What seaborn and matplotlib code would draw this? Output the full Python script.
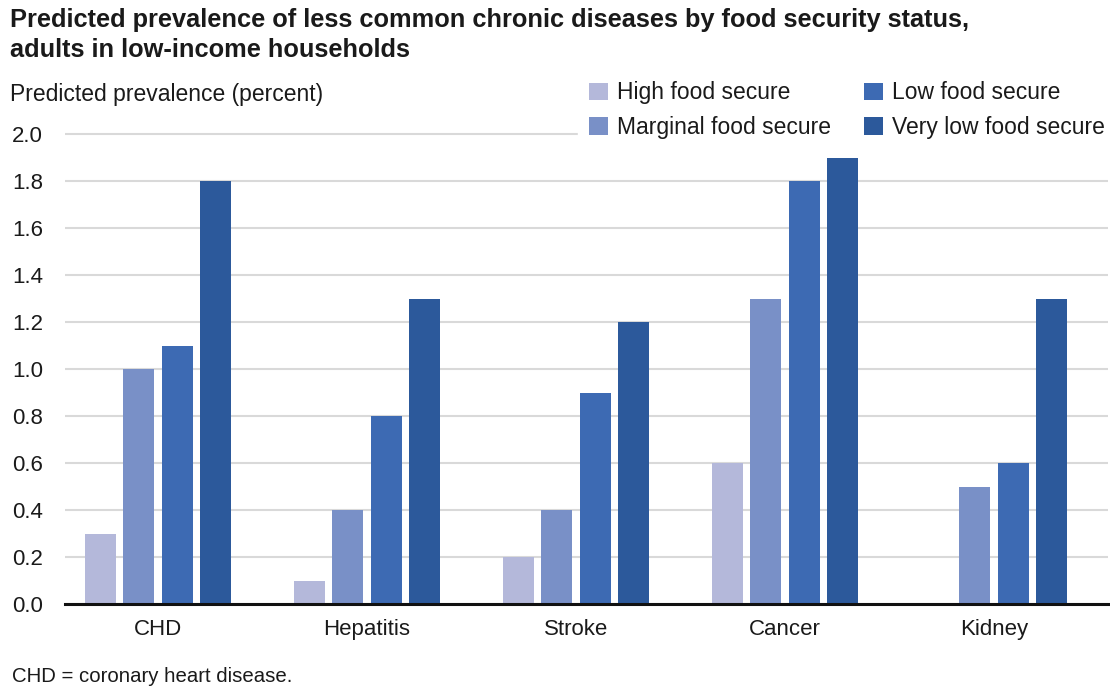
import numpy as np
import pandas as pd
import matplotlib
matplotlib.use("Agg")
import matplotlib.pyplot as plt
import seaborn as sns

# Predicted prevalence (percent) by disease and food security status
diseases = ["CHD", "Hepatitis", "Stroke", "Cancer", "Kidney"]
status_levels = ["High food secure", "Marginal food secure",
                 "Low food secure", "Very low food secure"]
high_secure = [0.3, 0.1, 0.2, 0.6, np.nan]
marginal_secure = [1.0, 0.4, 0.4, 1.3, 0.5]
low_secure = [1.1, 0.8, 0.9, 1.8, 0.6]
very_low_secure = [1.8, 1.3, 1.2, 1.9, 1.3]
y_ticks = [0.0, 0.2, 0.4, 0.6, 0.8, 1.0, 1.2, 1.4, 1.6, 1.8, 2.0]

palette = ["#b4b8da", "#7990c7", "#3d6ab3", "#2c599b"]

wide = pd.DataFrame({
    "disease": diseases,
    status_levels[0]: high_secure,
    status_levels[1]: marginal_secure,
    status_levels[2]: low_secure,
    status_levels[3]: very_low_secure,
})
df = wide.melt(id_vars="disease", var_name="status", value_name="prevalence")

sns.set_theme(style="white")
plt.rcParams["font.family"] = ["Liberation Sans", "DejaVu Sans"]
text_color = "#1a1a1a"

W, H = 1110, 687
fig = plt.figure(figsize=(W / 100, H / 100), dpi=100)
ax = fig.add_axes([65 / W, 83 / H, 1043 / W, 493.5 / H])

sns.barplot(data=df, x="disease", y="prevalence", hue="status",
            order=diseases, hue_order=status_levels, palette=palette,
            saturation=1, width=0.737, gap=0.2, errorbar=None,
            linewidth=0, ax=ax)

ax.set_xlim(-0.445, 4.545)
ax.set_ylim(0, 2.1)
ax.set_yticks(y_ticks)
ax.set_yticklabels([f"{v:.1f}" for v in y_ticks])
ax.set_xlabel("")
ax.set_ylabel("")

ax.yaxis.grid(True, color="#d9d9d9", linewidth=1.5)
ax.xaxis.grid(False)
ax.set_axisbelow(True)
for side in ["left", "right", "top"]:
    ax.spines[side].set_visible(False)
ax.spines["bottom"].set_color("#111111")
ax.spines["bottom"].set_linewidth(2.2)

ax.tick_params(axis="both", length=0, labelsize=16, labelcolor=text_color)
ax.tick_params(axis="y", pad=16)
ax.tick_params(axis="x", pad=11)

handles, labels = ax.get_legend_handles_labels()
ax.get_legend().remove()
fig.legend(handles, labels, ncol=2, loc="upper left",
           bbox_to_anchor=(578 / W, 1 - 70 / H), borderaxespad=0,
           frameon=True, facecolor="white", edgecolor="white", framealpha=1,
           fancybox=False, borderpad=0.5, handlelength=0.8, handleheight=0.8,
           handletextpad=0.4, columnspacing=1.45, labelspacing=0.5,
           fontsize=16.5, labelcolor=text_color)

fig.text(10 / W, 1 - 27 / H,
         "Predicted prevalence of less common chronic diseases by food security status,",
         fontsize=18.3, fontweight="bold", va="baseline", ha="left", color=text_color)
fig.text(10 / W, 1 - 57 / H, "adults in low-income households",
         fontsize=18.3, fontweight="bold", va="baseline", ha="left", color=text_color)
fig.text(10 / W, 1 - 101 / H, "Predicted prevalence (percent)",
         fontsize=16.5, va="baseline", ha="left", color=text_color)
fig.text(12 / W, 1 - 682 / H, "CHD = coronary heart disease.",
         fontsize=14.7, va="baseline", ha="left", color=text_color)

fig.savefig("out.png", dpi=100)
